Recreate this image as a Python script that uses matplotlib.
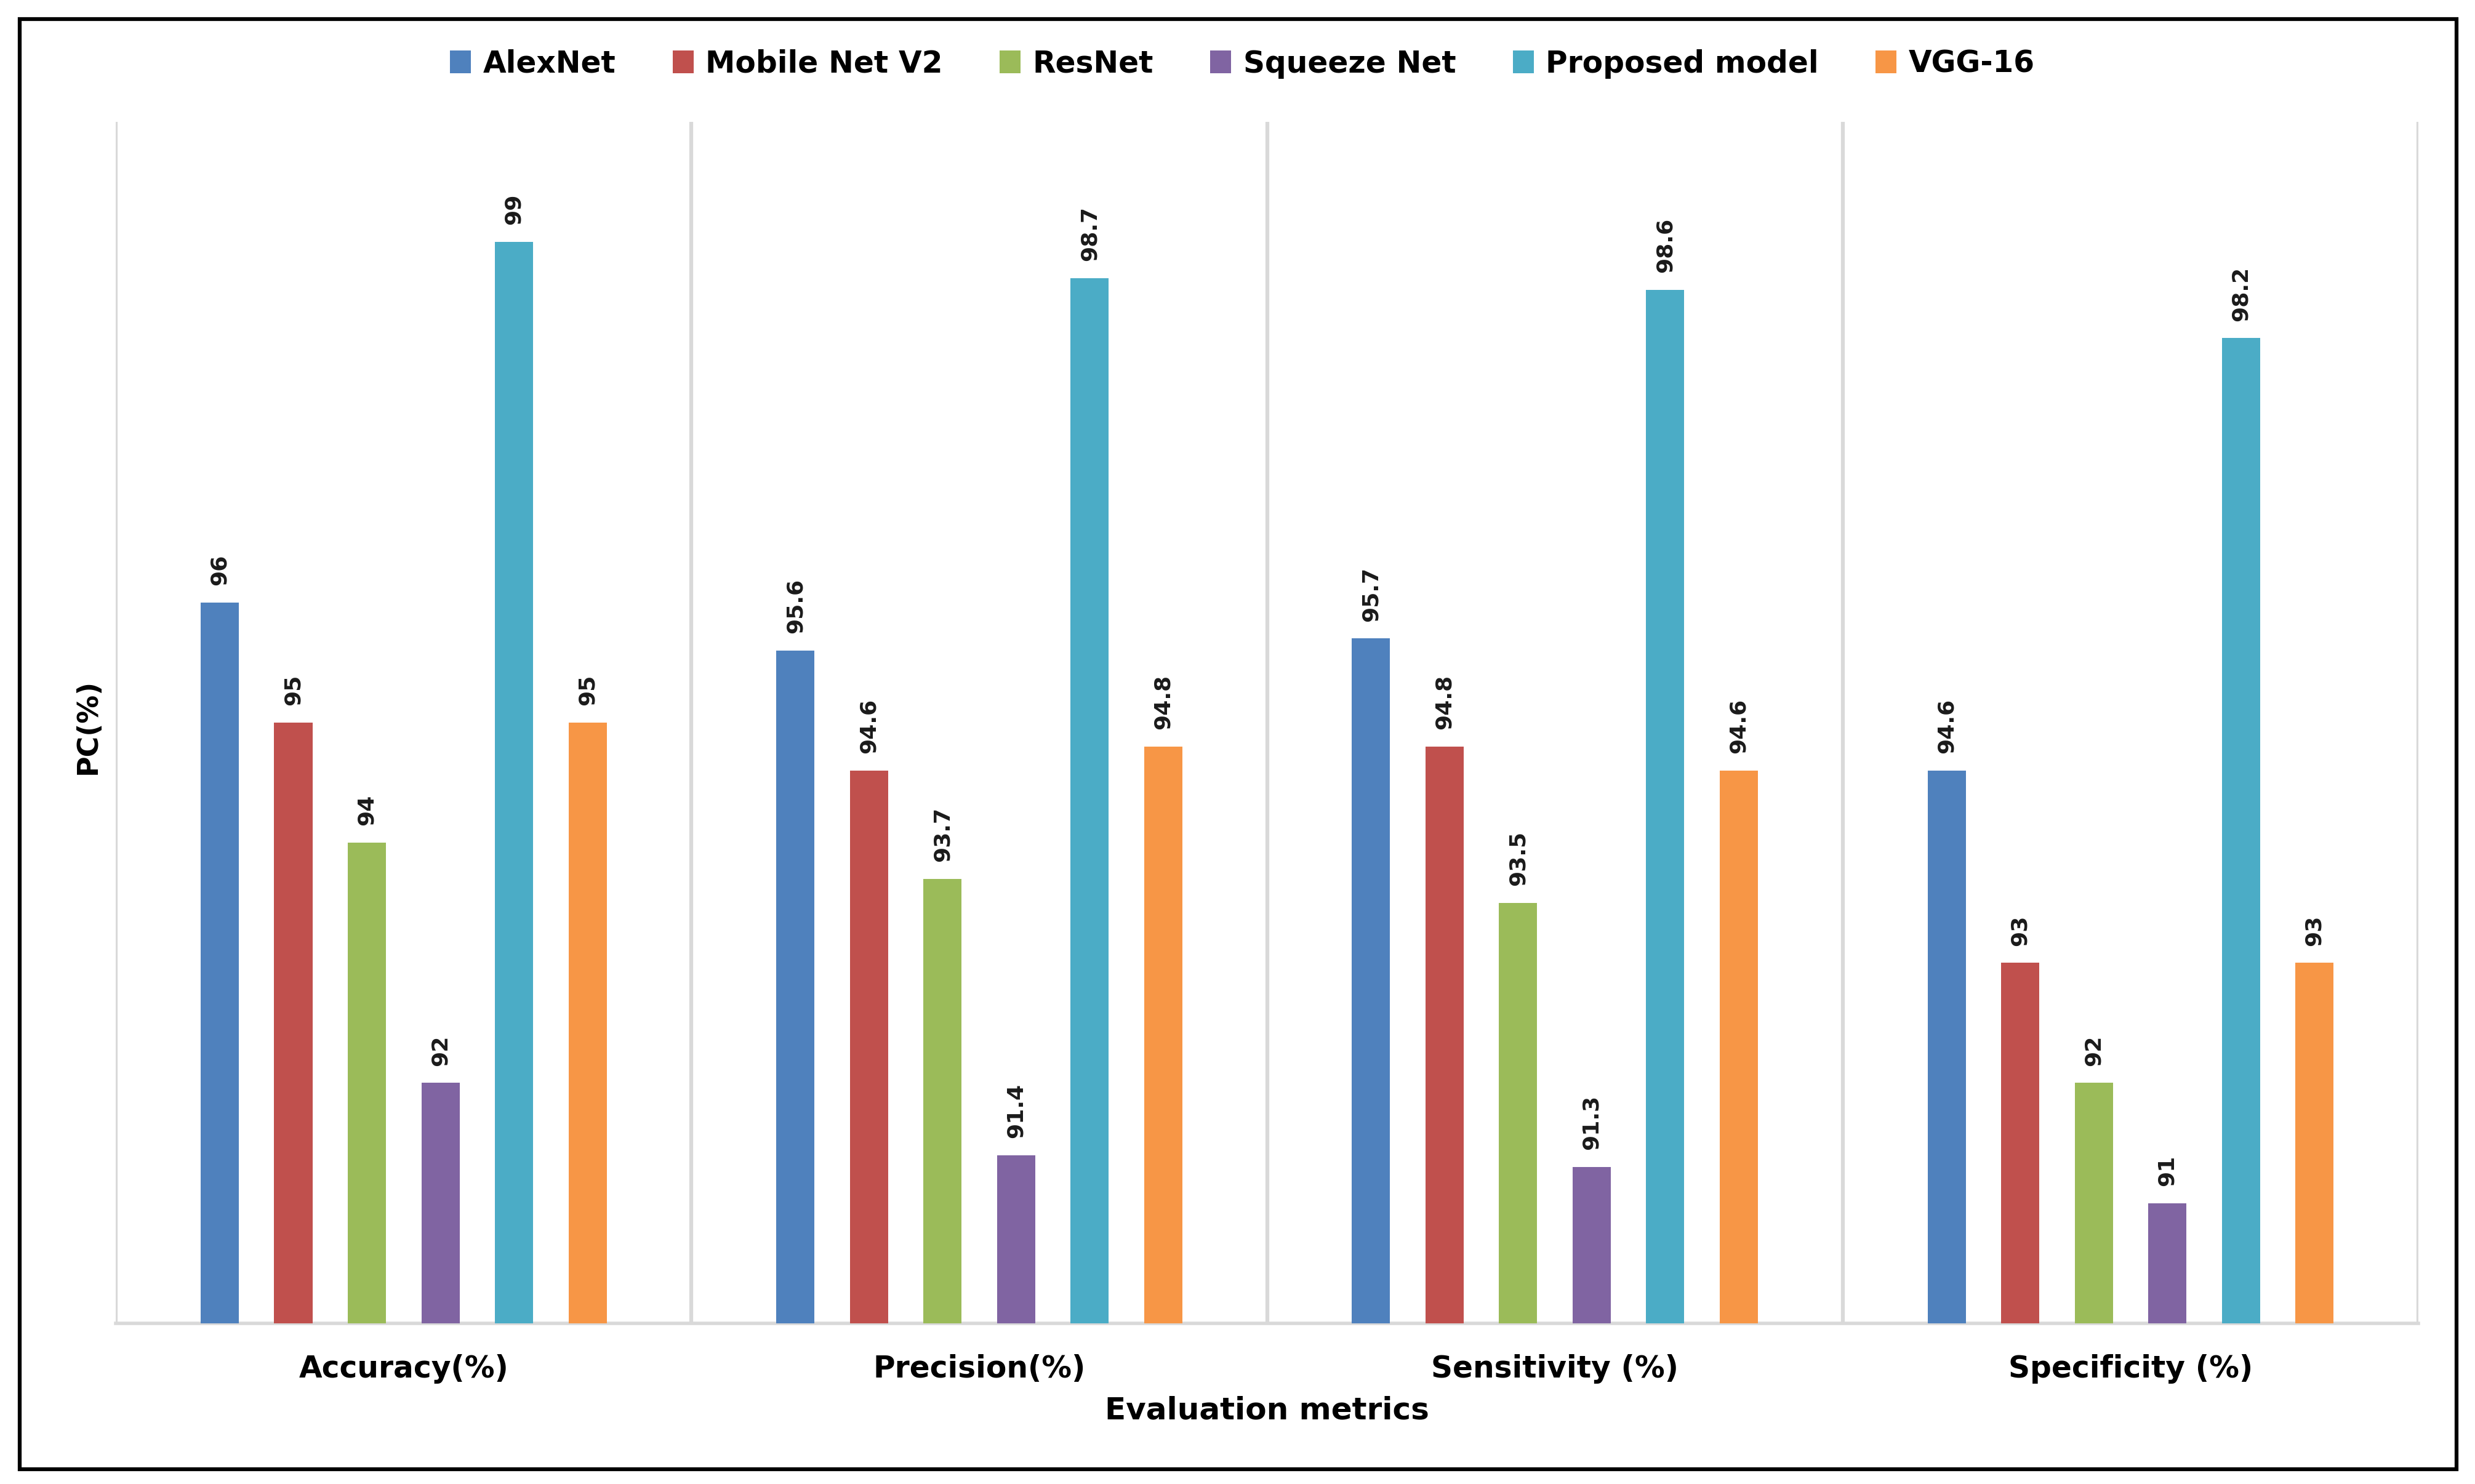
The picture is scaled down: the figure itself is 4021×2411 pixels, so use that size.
import matplotlib.pyplot as plt
import numpy as np
from matplotlib.patches import Rectangle

# -----------------------------
# data
# -----------------------------
metrics = ["Accuracy(%)", "Precision(%)", "Sensitivity (%)", "Specificity (%)"]
models = ["AlexNet", "Mobile Net V2", "ResNet", "Squeeze Net", "Proposed model", "VGG-16"]

alexnet = [96, 95.6, 95.7, 94.6]
mobilenet_v2 = [95, 94.6, 94.8, 93]
resnet = [94, 93.7, 93.5, 92]
squeeze_net = [92, 91.4, 91.3, 91]
proposed = [99, 98.7, 98.6, 98.2]
vgg16 = [95, 94.8, 94.6, 93]

series = [alexnet, mobilenet_v2, resnet, squeeze_net, proposed, vgg16]
colors = ["#4F81BD", "#C0504D", "#9BBB59", "#8064A2", "#4BACC6", "#F79646"]

plt.rcParams["font.family"] = ["DejaVu Sans"]

fig = plt.figure(figsize=(40.21, 24.11), dpi=100)
ax = fig.add_axes([0.0468, 0.1083, 0.9303, 0.8096])

x = np.arange(len(metrics))
pitch = 0.1278
width = 0.0663

for i, (vals, name, c) in enumerate(zip(series, models, colors)):
    pos = x + (i - 2.5) * pitch
    bars = ax.bar(pos, vals, width=width, color=c, label=name, zorder=3)
    for b, v in zip(bars, vals):
        ax.annotate(f"{v:g}", (b.get_x() + b.get_width() / 2, v),
                    xytext=(0, 20), textcoords="offset points",
                    ha="center", va="bottom", rotation=90, fontsize=26,
                    fontweight="semibold", color="#1a1a1a")

ax.set_xlim(-0.5, len(metrics) - 0.5)
ax.set_ylim(90, 100)
ax.set_yticks([])
ax.set_xticks(x)
ax.set_xticklabels(metrics, fontsize=35, fontweight="bold")
ax.tick_params(axis="x", length=0, pad=36)

# 分隔线
for b in np.arange(-0.5, len(metrics), 1.0):
    ax.axvline(b, color="#d9d9d9", lw=4.5, zorder=1)

for s in ["top", "right", "left"]:
    ax.spines[s].set_visible(False)
ax.spines["bottom"].set_color("#d9d9d9")
ax.spines["bottom"].set_linewidth(4)

fig.text(0.512, 0.0494, "Evaluation metrics", ha="center", va="center",
         fontsize=36, fontweight="bold")
fig.text(0.0356, 0.5106, "PC(%)", ha="center", va="center", rotation=90,
         fontsize=33, fontweight="semibold")

fig.legend(loc="center", bbox_to_anchor=(0.502, 0.957), ncol=6, frameon=False,
           handlelength=0.7, handleheight=0.8, handletextpad=0.4,
           columnspacing=1.9, prop={"weight": "bold", "size": 35})

# 外框
fig.patches.append(Rectangle((0.0080, 0.0100), 0.9845, 0.9771, transform=fig.transFigure,
                             fill=False, edgecolor="black", lw=4.5, zorder=10))

fig.savefig("out.png", dpi=100)
